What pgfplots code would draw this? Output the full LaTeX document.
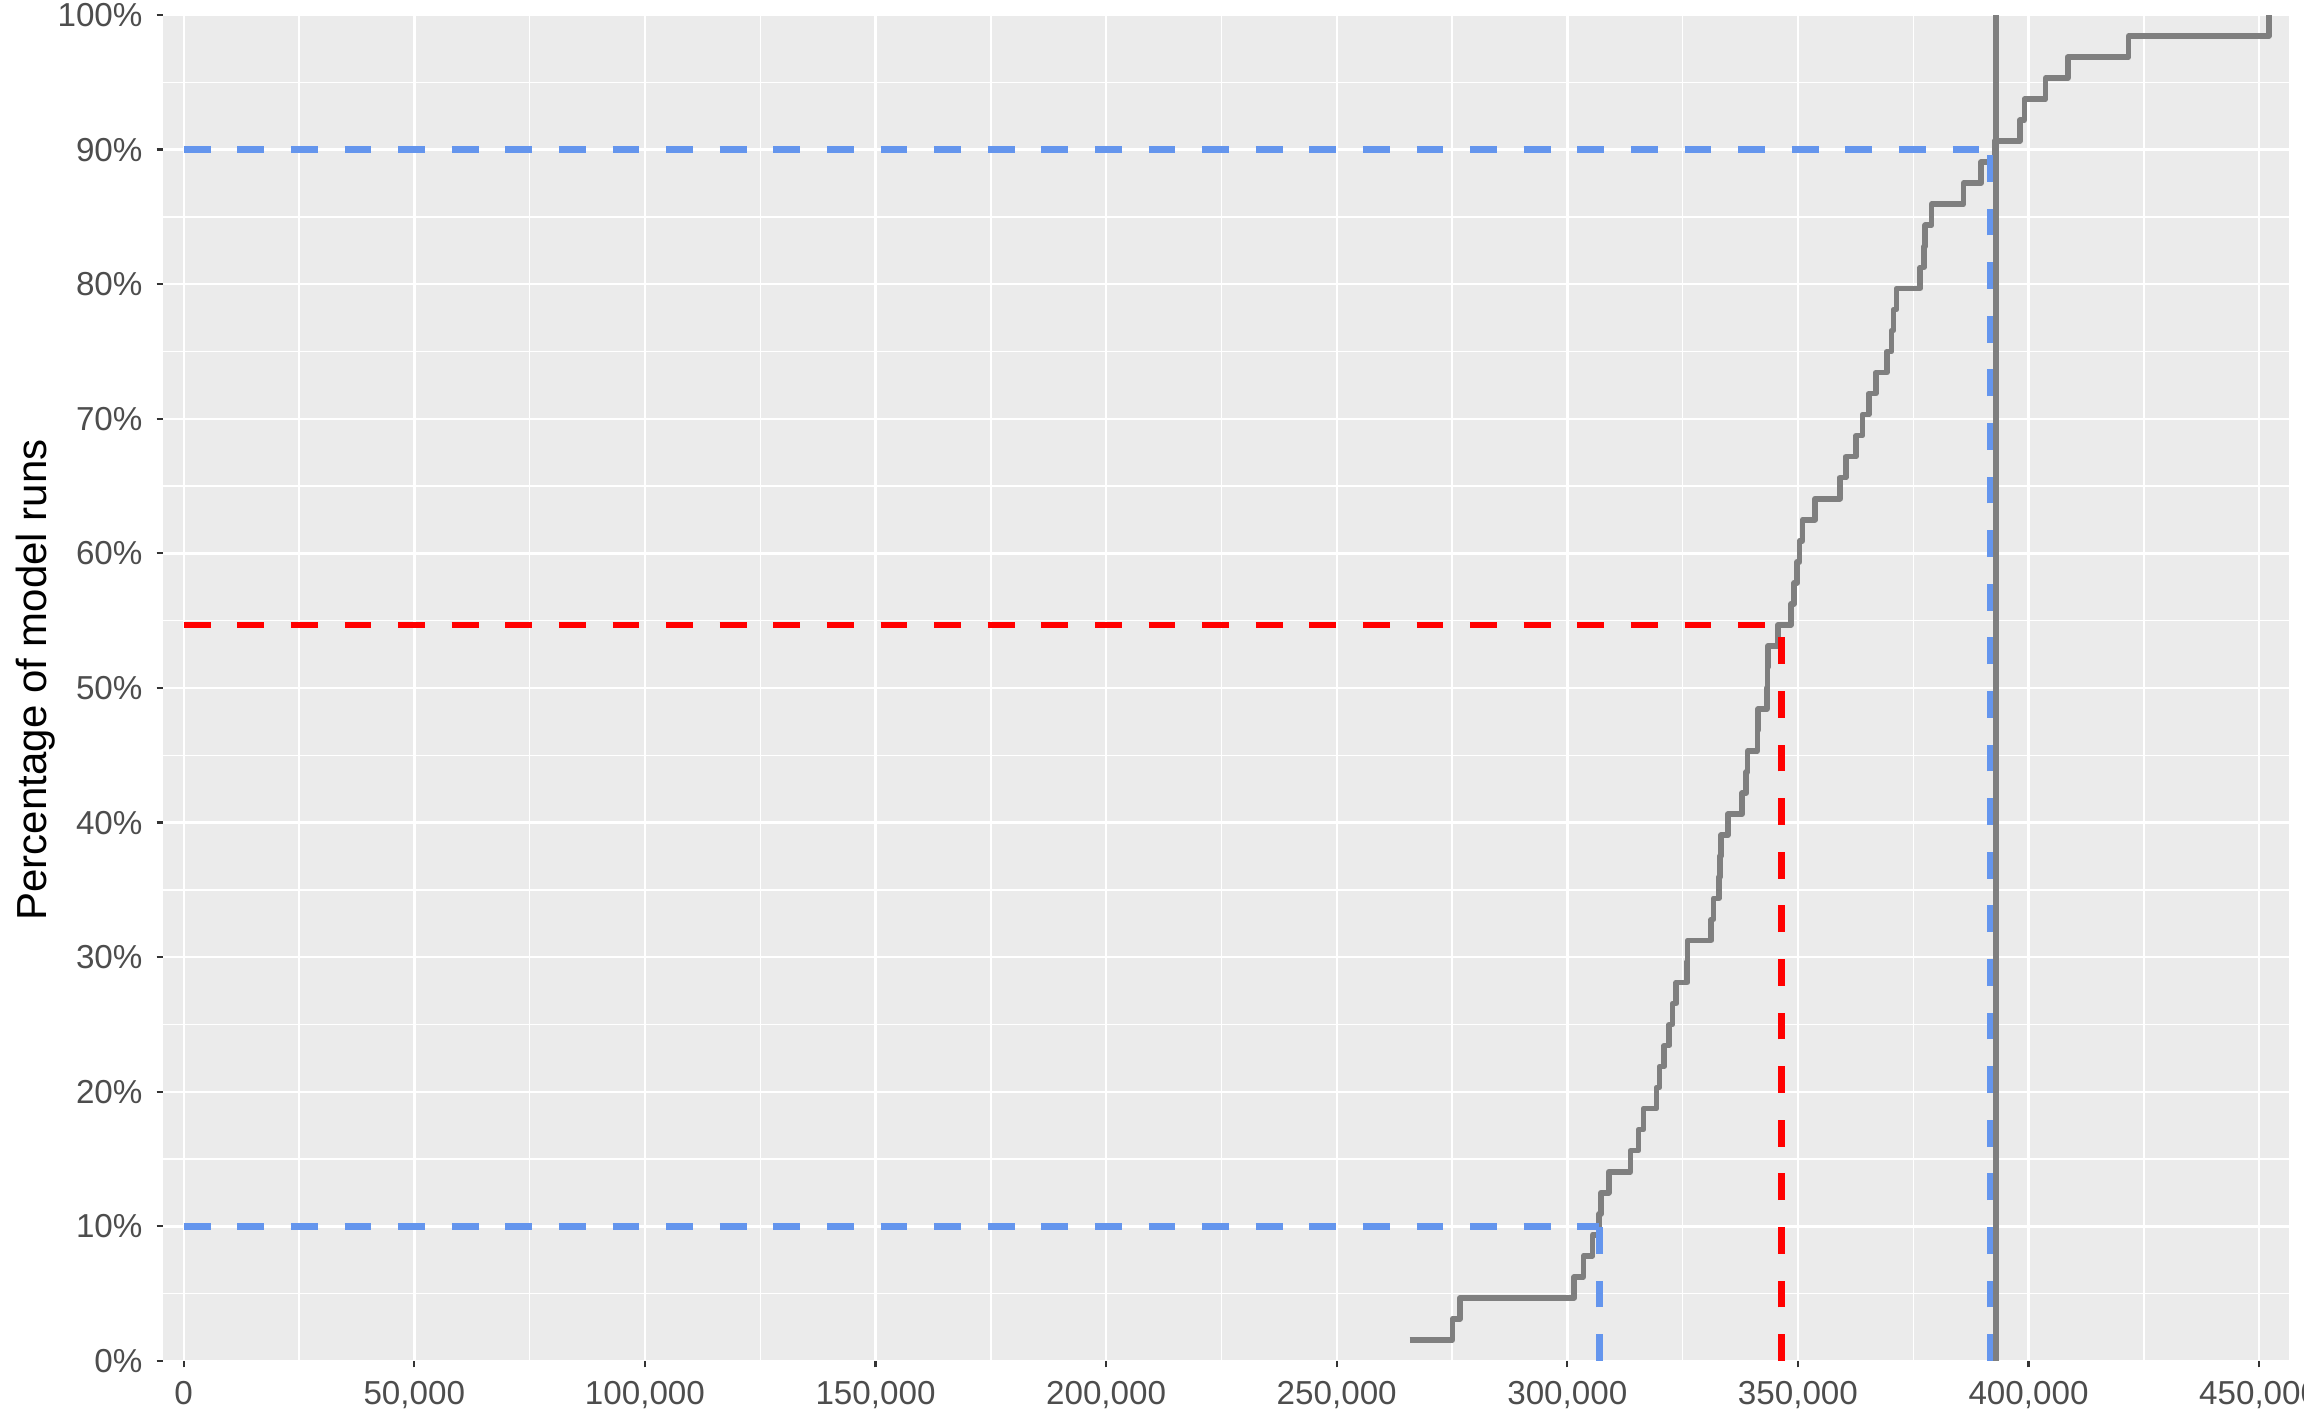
\documentclass[border=0pt]{standalone}
\usepackage{fontspec}
\setmainfont{Liberation Sans}
\usepackage{pgfplots}
\pgfplotsset{compat=1.18}
\definecolor{panelbg}{HTML}{EBEBEB}
\definecolor{ecdfgray}{HTML}{7F7F7F}
\definecolor{cfblue}{HTML}{6495ED}
\definecolor{ticklab}{HTML}{4D4D4D}
\definecolor{tickcol}{HTML}{333333}
\begin{document}
\begin{tikzpicture}
\useasboundingbox (0,0) rectangle (576pt,355.75pt);
\begin{axis}[
  at={(40.75pt,15.5pt)}, anchor=south west,
  scale only axis, width=531.5pt, height=336.5pt,
  xmin=-4490, xmax=456480, ymin=0, ymax=100,
  axis background/.style={fill=panelbg},
  axis line style={draw=none},
  xtick={0,50000,100000,150000,200000,250000,300000,350000,400000,450000},
  xticklabels={0,{50,000},{100,000},{150,000},{200,000},{250,000},{300,000},{350,000},{400,000},{450,000}},
  ytick={0,10,20,30,40,50,60,70,80,90,100},
  yticklabels={0\%,10\%,20\%,30\%,40\%,50\%,60\%,70\%,80\%,90\%,100\%},
  minor xtick={25000,75000,125000,175000,225000,275000,325000,375000,425000},
  minor ytick={5,15,25,35,45,55,65,75,85,95},
  grid=both,
  major grid style={white, line width=0.6pt},
  minor grid style={white, line width=0.35pt},
  tick align=outside, tick pos=left,
  major tick length=1.6pt, minor tick length=0pt,
  every tick/.style={tickcol, line width=0.55pt},
  tick label style={font=\fontsize{8.3}{10}\selectfont, text=ticklab},
  /pgf/number format/assume math mode=true,
  scaled x ticks=false,
  ylabel={Percentage of model runs},
  ylabel style={at={(axis description cs:-0.0548,0.506)}, anchor=base, font=\fontsize{10.5}{12}\selectfont, text=black},
]
\addplot[const plot, ecdfgray, line width=1.4pt, line join=round] coordinates {
(265800,1.5625) (275100,3.125) (276700,4.6875) (301500,6.25) (303500,7.8125)
(305500,9.375) (306900,10.9375) (307300,12.5) (309000,14.0625) (313700,15.625)
(315400,17.1875) (316500,18.75) (319300,20.3125) (320000,21.875) (321000,23.4375)
(322100,25) (322800,26.5625) (323600,28.125) (326000,29.6875) (326100,31.25)
(331200,32.8125) (331700,34.375) (332900,35.9375) (333100,37.5) (333300,39.0625)
(334800,40.625) (337900,42.1875) (338800,43.75) (339100,45.3125) (341200,46.875)
(341400,48.4375) (343250,50) (343400,51.5625) (343500,53.125) (345650,54.6875)
(348500,56.25) (349150,57.8125) (349850,59.375) (350350,60.9375) (351000,62.5)
(353700,64.0625) (359100,65.625) (360400,67.1875) (362600,68.75) (364000,70.3125)
(365400,71.875) (366900,73.4375) (369300,75) (370300,76.5625) (370700,78.125)
(371400,79.6875) (376500,81.25) (377300,82.8125) (377600,84.375) (379000,85.9375)
(385900,87.5) (389700,89.0625) (392600,90.625) (398100,92.1875) (399100,93.75)
(403700,95.3125) (408500,96.875) (421700,98.4375) (452150,100)
};
\addplot[cfblue, line width=1.65pt, dash pattern=on 6.7pt off 6.7pt] coordinates {(0,10) (306950,10)};
\addplot[cfblue, line width=1.65pt, dash pattern=on 6.7pt off 6.7pt] coordinates {(306950,0) (306950,10)};
\addplot[cfblue, line width=1.65pt, dash pattern=on 6.7pt off 6.7pt] coordinates {(0,90) (391800,90)};
\addplot[cfblue, line width=1.65pt, dash pattern=on 6.7pt off 6.7pt] coordinates {(391800,0) (391800,90)};
\addplot[red, line width=1.65pt, dash pattern=on 6.7pt off 6.7pt] coordinates {(0,54.6875) (346400,54.6875)};
\addplot[red, line width=1.65pt, dash pattern=on 6.7pt off 6.7pt] coordinates {(346400,0) (346400,54.6875)};
\addplot[ecdfgray, line width=1.4pt] coordinates {(392900,0) (392900,100)};
\end{axis}
\end{tikzpicture}
\end{document}
